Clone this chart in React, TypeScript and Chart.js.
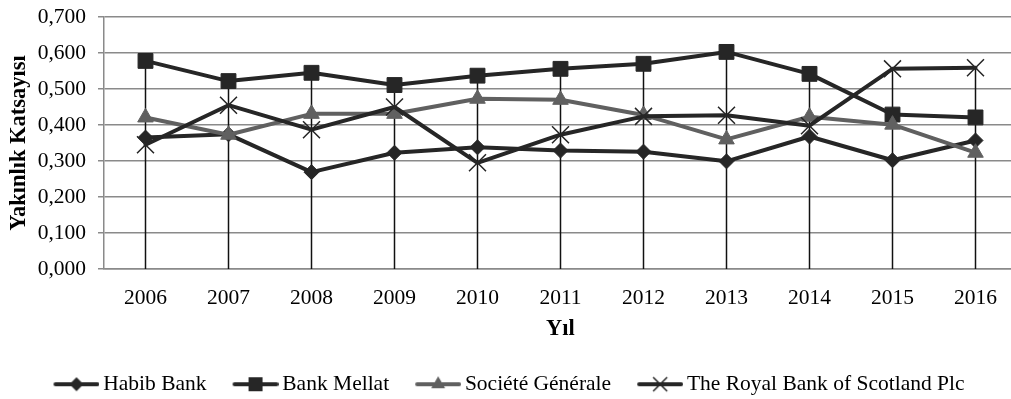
import { useEffect, useRef } from 'react';
import { Chart, registerables } from 'chart.js';

Chart.register(...registerables);

// Years on the horizontal axis
const years = ['2006', '2007', '2008', '2009', '2010', '2011', '2012', '2013', '2014', '2015', '2016'];

// Closeness coefficient per bank and year
const habibBank = [0.365, 0.374, 0.269, 0.323, 0.338, 0.329, 0.326, 0.299, 0.368, 0.302, 0.357];
const bankMellat = [0.578, 0.522, 0.545, 0.511, 0.537, 0.556, 0.570, 0.603, 0.542, 0.429, 0.421];
const societeGenerale = [0.421, 0.373, 0.431, 0.431, 0.473, 0.470, 0.428, 0.360, 0.423, 0.401, 0.323];
const royalBankOfScotland = [0.345, 0.455, 0.387, 0.450, 0.295, 0.373, 0.424, 0.427, 0.398, 0.556, 0.559];

const seriesNames = ['Habib Bank', 'Bank Mellat', 'Société Générale', 'The Royal Bank of Scotland Plc'];

// Value axis range
const yMin = 0;
const yMax = 0.7;
const yStep = 0.1;

const FONT = "'Liberation Serif', 'Times New Roman', serif";
const DARK = '#262626';
const GREY = '#606060';
const GRID = '#8a8a8a';

type Shape = 'diamond' | 'square' | 'triangle' | 'cross';

// Small line-with-marker swatch used as the legend symbol
function legendGlyph(color: string, shape: Shape): HTMLCanvasElement {
  const c = document.createElement('canvas');
  c.width = 54;
  c.height = 22;
  const g = c.getContext('2d')!;
  const cy = 11;
  const x0 = 10;
  const x1 = 52;
  const cx = 31;
  g.strokeStyle = color;
  g.fillStyle = color;
  g.lineWidth = 4;
  g.lineCap = 'round';
  g.beginPath();
  g.moveTo(x0, cy);
  g.lineTo(x1, cy);
  g.stroke();
  g.beginPath();
  if (shape === 'diamond') {
    const r = 7;
    g.moveTo(cx, cy - r);
    g.lineTo(cx + r, cy);
    g.lineTo(cx, cy + r);
    g.lineTo(cx - r, cy);
    g.closePath();
    g.fill();
  } else if (shape === 'square') {
    const s = 7;
    g.rect(cx - s, cy - s, 2 * s, 2 * s);
    g.fill();
  } else if (shape === 'triangle') {
    const r = 8;
    g.moveTo(cx, cy - r);
    g.lineTo(cx + r * 0.866, cy + r * 0.5);
    g.lineTo(cx - r * 0.866, cy + r * 0.5);
    g.closePath();
    g.fill();
  } else {
    const a = 7;
    g.lineWidth = 1.5;
    g.lineCap = 'butt';
    g.moveTo(cx - a, cy - a);
    g.lineTo(cx + a, cy + a);
    g.moveTo(cx + a, cy - a);
    g.lineTo(cx - a, cy + a);
    g.stroke();
  }
  return c;
}

// Vertical drop lines from the highest value of each year down to zero
const dropLines = {
  id: 'dropLines',
  beforeDatasetsDraw(chart: any) {
    const { ctx, scales } = chart;
    const x = scales.x;
    const y = scales.y;
    ctx.save();
    ctx.strokeStyle = '#111111';
    ctx.lineWidth = 1.5;
    years.forEach((_, i) => {
      const top = Math.max(...chart.data.datasets.map((d: any) => d.data[i] as number));
      const px = x.getPixelForValue(i);
      ctx.beginPath();
      ctx.moveTo(px, y.getPixelForValue(top));
      ctx.lineTo(px, y.getPixelForValue(0));
      ctx.stroke();
    });
    ctx.restore();
  },
};

export default function App() {
  const ref = useRef<HTMLCanvasElement>(null);

  useEffect(() => {
    const canvas = ref.current;
    if (!canvas) return;

    const glyphs = [
      legendGlyph(DARK, 'diamond'),
      legendGlyph(DARK, 'square'),
      legendGlyph(GREY, 'triangle'),
      legendGlyph(DARK, 'cross'),
    ];

    const tickFont = { family: FONT, size: 21.5 };
    const titleFont = { family: FONT, size: 22.5, weight: 'bold' as const };

    const chart = new Chart(canvas, {
      type: 'line',
      data: {
        labels: years,
        datasets: [
          {
            label: seriesNames[0],
            data: habibBank,
            borderColor: DARK,
            backgroundColor: DARK,
            borderWidth: 4,
            pointStyle: 'rectRot',
            pointRadius: 7.5,
            pointBackgroundColor: DARK,
            pointBorderColor: DARK,
            pointBorderWidth: 1,
            order: 4,
          },
          {
            label: seriesNames[1],
            data: bankMellat,
            borderColor: DARK,
            backgroundColor: DARK,
            borderWidth: 4,
            pointStyle: 'rect',
            pointRadius: 10.5,
            pointBackgroundColor: DARK,
            pointBorderColor: DARK,
            pointBorderWidth: 1,
            order: 3,
          },
          {
            label: seriesNames[2],
            data: societeGenerale,
            borderColor: GREY,
            backgroundColor: GREY,
            borderWidth: 4,
            pointStyle: 'triangle',
            pointRadius: 9,
            pointBackgroundColor: GREY,
            pointBorderColor: GREY,
            pointBorderWidth: 1,
            order: 2,
          },
          {
            label: seriesNames[3],
            data: royalBankOfScotland,
            borderColor: DARK,
            backgroundColor: DARK,
            borderWidth: 4,
            pointStyle: 'crossRot',
            pointRadius: 12,
            pointBackgroundColor: DARK,
            pointBorderColor: DARK,
            pointBorderWidth: 1.5,
            order: 1,
          },
        ],
      },
      options: {
        responsive: false,
        animation: false,
        devicePixelRatio: 1,
        elements: {
          line: { tension: 0, borderCapStyle: 'round', borderJoinStyle: 'round' },
        },
        layout: { autoPadding: false, padding: { top: 17, left: 0, right: 0, bottom: 0 } },
        plugins: {
          tooltip: { enabled: false },
          legend: {
            position: 'bottom',
            labels: {
              usePointStyle: true,
              pointStyleWidth: 40,
              padding: 25,
              color: '#000000',
              font: tickFont,
              sort: (a: any, b: any) => a.datasetIndex - b.datasetIndex,
              generateLabels: (c: any) =>
                c.data.datasets.map((ds: any, i: number) => ({
                  text: ds.label,
                  pointStyle: glyphs[i],
                  fillStyle: ds.borderColor,
                  strokeStyle: ds.borderColor,
                  lineWidth: 0,
                  hidden: false,
                  datasetIndex: i,
                  fontColor: '#000000',
                })),
            },
          },
        },
        scales: {
          x: {
            type: 'category',
            offset: true,
            grid: { display: false },
            border: { display: true, color: GRID, width: 1.5 },
            ticks: { color: '#000000', font: tickFont, padding: 8, maxRotation: 0, autoSkip: false },
            title: {
              display: true,
              text: 'Yıl',
              color: '#000000',
              font: titleFont,
              padding: { top: 0, bottom: 6 },
            },
            afterFit: (scale: any) => {
              scale.height = 79.5;
              scale.paddingLeft = 0;
              scale.paddingRight = 0;
            },
          },
          y: {
            min: yMin,
            max: yMax,
            grid: { color: GRID, lineWidth: 1.5, tickLength: 6, drawTicks: true },
            border: { display: true, color: GRID, width: 1.5 },
            ticks: {
              stepSize: yStep,
              padding: 12,
              color: '#000000',
              font: tickFont,
              callback: (v: any) => Number(v).toFixed(3).replace('.', ','),
            },
            title: {
              display: true,
              text: 'Yakınlık Katsayısı',
              color: '#000000',
              font: titleFont,
              padding: { top: 6, bottom: 0 },
            },
            afterFit: (scale: any) => {
              scale.width = 104;
              scale.paddingTop = 0;
              scale.paddingBottom = 0;
            },
          },
        },
      },
      plugins: [dropLines],
    });

    return () => chart.destroy();
  }, []);

  return (
    <div
      style={{
        position: 'fixed',
        left: 0,
        top: 0,
        width: 1011,
        height: 399,
        overflow: 'hidden',
        background: '#ffffff',
      }}
    >
      <canvas ref={ref} width={1017} height={405} style={{ display: 'block', width: 1017, height: 405 }} />
    </div>
  );
}
